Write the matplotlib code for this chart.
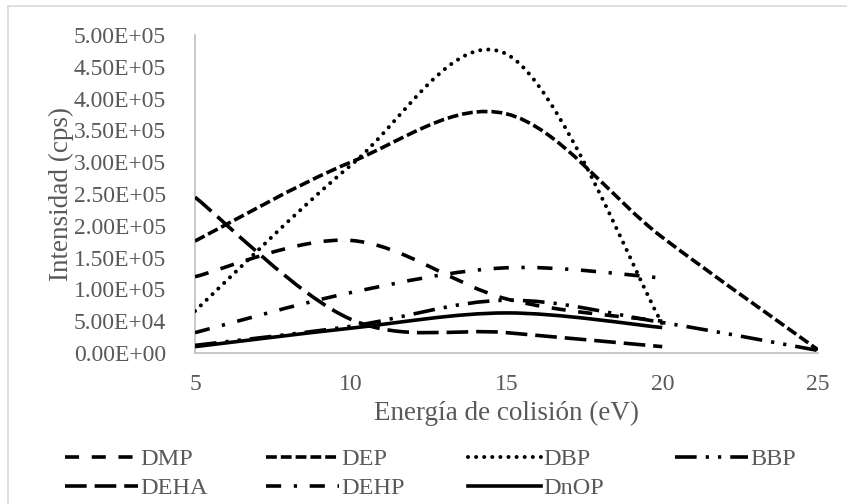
import matplotlib
matplotlib.use("Agg")
import matplotlib.pyplot as plt
from matplotlib.path import Path
from matplotlib.patches import PathPatch, Rectangle
from matplotlib.lines import Line2D
from matplotlib.ticker import FuncFormatter, MultipleLocator

# ---- data ----
energy = [5, 10, 15, 20, 25]
series_names = ["DMP", "DEP", "DBP", "BBP", "DEHA", "DEHP", "DnOP"]
DMP = [1.20e5, 1.77e5, 8.5e4, 5.0e4]
DEP = [1.76e5, 3.00e5, 3.76e5, 1.82e5, 5.0e3]
DBP = [6.6e4, 2.95e5, 4.70e5, 4.6e4]
BBP = [1.2e4, 4.2e4, 8.3e4, 4.8e4, 4.0e3]
DEHA = [2.45e5, 5.3e4, 3.2e4, 1.0e4]
DEHP = [3.2e4, 9.5e4, 1.34e5, 1.18e5]
DnOP = [1.0e4, 3.9e4, 6.3e4, 4.0e4]
values = [DMP, DEP, DBP, BBP, DEHA, DEHP, DnOP]

LW = 2.6
styles = {
    "DMP": dict(dashes=(3.9, 3.5), cap="butt", lw=LW),
    "DEP": dict(dashes=(3, 1.1), cap="butt", lw=LW),
    "DBP": dict(dashes=(0.01, 2.0), cap="round", lw=2.9),
    "BBP": dict(dashes=(6, 2.5, 0.9, 2.5, 0.9, 2.5), cap="butt", lw=LW),
    "DEHA": dict(dashes=(6, 2.2), cap="butt", lw=LW),
    "DEHP": dict(dashes=(4.2, 3.5, 0.9, 3.5), cap="butt", lw=LW),
    "DnOP": dict(dashes=None, cap="butt", lw=LW),
}

GRAY = "#595959"
plt.rcParams["font.family"] = ["Liberation Serif", "DejaVu Serif"]

fig = plt.figure(figsize=(8.47, 5.04), dpi=100)
ax = fig.add_axes([195 / 847, 1 - 353 / 504, (818 - 195) / 847, (353 - 35) / 504])


def smooth_path(xs, ys):
    """Excel-like smoothed line: cubic Bezier through the data points."""
    pts = list(zip(xs, ys))
    n = len(pts)
    verts = [pts[0]]
    codes = [Path.MOVETO]
    for i in range(n - 1):
        p0 = pts[i - 1] if i > 0 else pts[i]
        p1 = pts[i]
        p2 = pts[i + 1]
        p3 = pts[i + 2] if i + 2 < n else pts[i + 1]
        c1 = (p1[0] + (p2[0] - p0[0]) / 6, p1[1] + (p2[1] - p0[1]) / 6)
        c2 = (p2[0] - (p3[0] - p1[0]) / 6, p2[1] - (p3[1] - p1[1]) / 6)
        verts += [c1, c2, p2]
        codes += [Path.CURVE4] * 3
    return Path(verts, codes)


handles = {}
for name, vals in zip(series_names, values):
    st = styles[name]
    xs = energy[: len(vals)]
    path = smooth_path(xs, vals)
    ls = "-" if st["dashes"] is None else (0, st["dashes"])
    patch = PathPatch(path, fill=False, edgecolor="black", linewidth=st["lw"],
                      linestyle=ls, transform=ax.transData, zorder=3)
    patch.set_capstyle(st["cap"])
    patch.set_joinstyle("round")
    ax.add_patch(patch)
    h = Line2D([], [], color="black", linewidth=st["lw"], label=name)
    if st["dashes"] is not None:
        h.set_dashes(st["dashes"])
    h.set_dash_capstyle(st["cap"])
    handles[name] = h

ax.set_xlim(5, 25)
ax.set_ylim(0, 5e5)
ax.xaxis.set_major_locator(MultipleLocator(5))
ax.yaxis.set_major_locator(MultipleLocator(5e4))
ax.yaxis.set_major_formatter(FuncFormatter(lambda v, p: f"{v:.2E}"))

for s in ["top", "right"]:
    ax.spines[s].set_visible(False)
for s in ["left", "bottom"]:
    ax.spines[s].set_color("#bfbfbf")
    ax.spines[s].set_linewidth(1.2)
ax.tick_params(axis="both", length=0, labelsize=17, labelcolor=GRAY)
ax.tick_params(axis="x", pad=15)
ax.tick_params(axis="y", pad=21)

ax.set_xlabel("Energía de colisión (eV)", fontsize=19.5, color=GRAY, labelpad=4)
ax.set_ylabel("Intensidad (cps)", fontsize=19.5, color=GRAY, labelpad=0)

# legend: 4 columns, filled row-wise, each column placed like the reference
legend_cols = [["DMP", "DEHA"], ["DEP", "DEHP"], ["DBP", "DnOP"], ["BBP"]]
col_x = [65, 266, 468, 675]
for names, x0 in zip(legend_cols, col_x):
    leg = fig.legend(handles=[handles[n] for n in names],
                     loc="upper left", bbox_to_anchor=(x0 / 847, 1 - 448 / 504),
                     ncol=1, frameon=False, fontsize=17.5, handlelength=3.0,
                     handletextpad=0.1, labelspacing=0.3, borderpad=0,
                     borderaxespad=0, labelcolor=GRAY)

fig.patches.append(Rectangle((8 / 847, -0.02), 1.0, 1 - 6 / 504 + 0.02,
                             transform=fig.transFigure, fill=False,
                             edgecolor="#d9d9d9", linewidth=1.2))

fig.savefig("out.png", dpi=100, facecolor="white")
